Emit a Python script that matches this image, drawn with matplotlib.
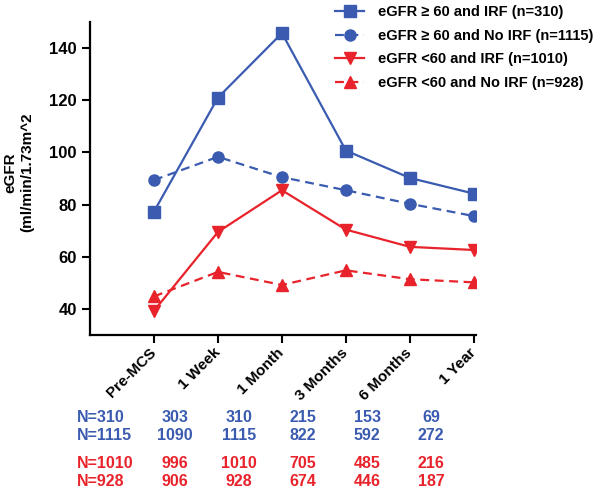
import numpy as np
import matplotlib.pyplot as plt
import matplotlib.transforms as mtransforms

plt.rcParams['font.family'] = ['Liberation Sans', 'DejaVu Sans']
plt.rcParams['font.weight'] = 'bold'
plt.rcParams['axes.labelweight'] = 'bold'

# data
timepoints = ["Pre-MCS", "1 Week", "1 Month", "3 Months", "6 Months", "1 Year"]
hi_irf = [77.3, 121.0, 145.7, 100.7, 90.2, 84.2]
hi_no_irf = [89.4, 98.3, 90.5, 85.5, 80.3, 75.6]
lo_irf = [39.3, 69.5, 85.5, 70.4, 63.8, 62.6]
lo_no_irf = [44.8, 54.2, 49.2, 54.8, 51.4, 50.2]

labels = ["eGFR \u2265 60 and IRF (n=310)", "eGFR \u2265 60 and No IRF (n=1115)",
          "eGFR <60 and IRF (n=1010)", "eGFR <60 and No IRF (n=928)"]

n_hi_irf = ["N=310", "303", "310", "215", "153", "69"]
n_hi_no_irf = ["N=1115", "1090", "1115", "822", "592", "272"]
n_lo_irf = ["N=1010", "996", "1010", "705", "485", "216"]
n_lo_no_irf = ["N=928", "906", "928", "674", "446", "187"]

blue = "#3a5bb0"
red = "#e8232b"

fig = plt.figure(figsize=(6, 4.87), dpi=100)
ax = fig.add_axes([0.15, 0.312, 0.643, 0.643])

x = np.arange(len(timepoints))
ax.plot(x, hi_irf, color=blue, lw=1.6, marker="s", ms=8, label=labels[0])
ax.plot(x, hi_no_irf, color=blue, lw=1.6, ls=(0, (4, 2.5)), marker="o", ms=8, label=labels[1])
ax.plot(x, lo_irf, color=red, lw=1.6, marker="v", ms=8, label=labels[2])
ax.plot(x, lo_no_irf, color=red, lw=1.6, ls=(0, (4, 2.5)), marker="^", ms=8, label=labels[3])

ax.set_xlim(-1, 5.03)
ax.set_ylim(30, 150)
ax.set_yticks([40, 60, 80, 100, 120, 140])
ax.set_xticks(x)
ax.set_xticklabels(timepoints, rotation=45, ha="right", va="center",
                   rotation_mode="anchor", fontsize=11)
ax.tick_params(axis="y", labelsize=12, width=1.5, length=6)
ax.tick_params(axis="x", width=1.5, length=6, pad=5)
for s in ["top", "right"]:
    ax.spines[s].set_visible(False)
for s in ["left", "bottom"]:
    ax.spines[s].set_linewidth(1.6)

ax.set_ylabel("eGFR\n(ml/min/1.73m^2", fontsize=11)
ax.yaxis.set_label_coords(-0.145, 0.52)

fig.legend(loc="upper right", bbox_to_anchor=(1.01, 1.016), frameon=False, fontsize=10.5,
           handlelength=2.0, labelspacing=0.65, handletextpad=0.9)

# N table under the axis
trans = mtransforms.blended_transform_factory(ax.transData, fig.transFigure)
rows = [(n_hi_irf, blue, 417), (n_hi_no_irf, blue, 436), (n_lo_irf, red, 463), (n_lo_no_irf, red, 481)]
for vals, col, ypx in rows:
    yf = 1 - ypx / 487
    fig.text(0.128, yf, vals[0], color=col, fontsize=11.5, ha="left", va="center")
    for i in range(1, len(vals)):
        ax.text(i - 0.67, yf, vals[i], color=col, fontsize=11.5, ha="center", va="center",
                transform=trans, clip_on=False)

fig.savefig("out.png", dpi=100)
